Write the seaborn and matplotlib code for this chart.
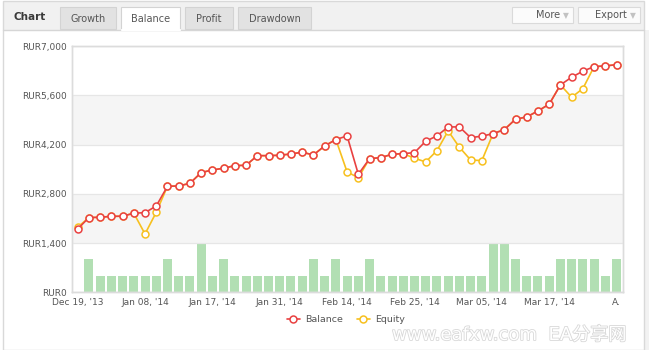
import matplotlib
matplotlib.use("Agg")
import matplotlib.pyplot as plt
import matplotlib.patheffects as pe
from matplotlib.patches import Rectangle
from matplotlib.lines import Line2D
import pandas as pd
import seaborn as sns

# ---- data -------------------------------------------------------------
date_labels = ["Dec 19, '13", "Jan 08, '14", "Jan 17, '14", "Jan 31, '14",
               "Feb 14, '14", "Feb 25, '14", "Mar 05, '14", "Mar 17, '14", "A."]
balance = [1800, 2125, 2135, 2160, 2165, 2250, 2265, 2455, 3015, 3025,
           3100, 3405, 3480, 3528, 3603, 3613, 3887, 3887, 3898, 3935,
           3984, 3907, 4163, 4345, 4448, 3357, 3802, 3831, 3926, 3944,
           3973, 4297, 4448, 4704, 4704, 4400, 4440, 4513, 4627, 4923,
           4988, 5159, 5350, 5899, 6118, 6289, 6420, 6439, 6475]
equity = [1850, 2125, 2135, 2160, 2165, 2250, 1659, 2276, 3015, 3025,
          3100, 3405, 3480, 3528, 3603, 3613, 3887, 3887, 3898, 3935,
          3984, 3907, 4163, 4345, 3423, 3261, 3802, 3831, 3926, 3944,
          3813, 3708, 4029, 4590, 4126, 3765, 3745, 4513, 4627, 4923,
          4988, 5159, 5350, 5899, 5548, 5794, 6420, 6439, 6475]
trades = [0, 2, 1, 1, 1, 1, 1, 1, 2, 1, 1, 3, 1, 2, 1, 1, 1, 1, 1, 1, 1, 2, 1,
          2, 1, 1, 2, 1, 1, 1, 1, 1, 1, 1, 1, 1, 1, 3, 3, 2, 1, 1, 1, 2, 2, 2, 2, 1, 2]
y_ticks = [0, 1400, 2800, 4200, 5600, 7000]
y_max = 7000
trades_max = 15

df = pd.DataFrame({"idx": range(len(balance)), "balance": balance,
                   "equity": equity, "trades": trades})

RED = "#e94141"
GOLD = "#f7c01e"
GREEN = "#b2dfb3"
TXT = "#555555"

sns.set_theme(style="white")
plt.rcParams["font.family"] = ["DejaVu Sans"]

W, H = 649, 350
fig = plt.figure(figsize=(W / 100, H / 100), dpi=100, facecolor="white")

# ---- panel chrome (pixel coordinates) ---------------------------------
bg = fig.add_axes([0, 0, 1, 1], zorder=-5)
bg.set_xlim(0, W)
bg.set_ylim(H, 0)
bg.axis("off")
bg.add_patch(Rectangle((3, 1), 640.5, 28.5, fc="#f1f1f1", ec="none"))
bg.plot([3, 643.5], [29.5, 29.5], color="#d6d6d6", lw=1)
bg.add_patch(Rectangle((643.5, 30), 6, 320, fc="#f2f2f2", ec="none"))
bg.add_patch(Rectangle((2.5, 0.5), 641, 349, fc="none", ec="#d9d9d9", lw=1))

bg.text(13, 17.5, "Chart", ha="left", va="center", fontsize=7.5,
        fontweight="bold", color="#3a3a3a")
tabs = [("Growth", 60, 116, False), ("Balance", 121, 180, True),
        ("Profit", 185, 233, False), ("Drawdown", 238, 311, False)]
for label, x0, x1, active in tabs:
    top = 6.7 if active else 7.3
    bottom = 30.2 if active else 29.3
    bg.add_patch(Rectangle((x0, top), x1 - x0, bottom - top,
                           fc="white" if active else "#e2e2e2",
                           ec="#d3d3d3", lw=0.8))
    if active:
        bg.plot([x0 + 0.5, x1 - 0.5], [29.6, 29.6], color="white", lw=1.6)
    bg.text((x0 + x1) / 2, 18.6, label, ha="center", va="center",
            fontsize=7, color=TXT)

for label, x0, x1 in [("More", 512, 573), ("Export", 578, 640)]:
    bg.add_patch(Rectangle((x0, 6.7), x1 - x0, 16.6, fc="#fbfbfb",
                           ec="#dadada", lw=0.8))
    bg.text(x1 - 13, 15.2, label, ha="right", va="center", fontsize=7,
            color=TXT)
    bg.text(x1 - 7, 15.2, "\u25bc", ha="center", va="center", fontsize=5.5,
            color="#c2c2c2")

bg.text(392, 335, "www.eafxw.com  EA分享网", ha="left", va="center",
        fontsize=13, color="white",
        family=["DejaVu Sans", "Noto Sans CJK SC"],
        path_effects=[pe.withStroke(linewidth=1.2, foreground="#d8d8d8")])

# ---- plot area --------------------------------------------------------
left, right = 71.7 / W, 623.3 / W
top, bottom = 1 - 46.2 / H, 1 - 292.3 / H
axb = fig.add_axes([left, bottom, right - left, top - bottom], zorder=0)
axb.set_facecolor("white")
ax = axb.twinx()
ax.set_zorder(1)
ax.patch.set_visible(False)

# alternating horizontal bands, drawn in the back axes beneath the bars
scale = trades_max / y_max
for lo, hi in [(y_ticks[1], y_ticks[2]), (y_ticks[3], y_ticks[4])]:
    axb.axhspan(lo * scale, hi * scale, facecolor="#f5f5f5",
                edgecolor="none", zorder=0)

# trade-count bars
sns.barplot(data=df, x="idx", y="trades", ax=axb, color=GREEN,
            saturation=1, width=0.8, linewidth=0, zorder=2)
axb.set_ylim(0, trades_max)
axb.set_yticks([])
axb.set_ylabel("")
axb.set_xlabel("")

for t in y_ticks:
    ax.axhline(t, color="#e6e6e6", lw=0.9, zorder=0.5)

line_kw = dict(marker="o", markersize=5, markerfacecolor="white",
               markeredgewidth=1.1, linewidth=1.2)
sns.lineplot(data=df, x="idx", y="equity", ax=ax, color=GOLD,
             markeredgecolor=GOLD, zorder=3, **line_kw)
sns.lineplot(data=df, x="idx", y="balance", ax=ax, color=RED,
             markeredgecolor=RED, zorder=4, **line_kw)

ax.yaxis.tick_left()
ax.yaxis.set_label_position("left")
ax.set_ylim(0, y_max)
ax.set_yticks(y_ticks)
ax.set_yticklabels([f"RUR{v:,}" for v in y_ticks])
ax.set_ylabel("")
ax.set_xlabel("")
ax.set_xlim(-0.53, 48.6)
ax.set_xticks(list(range(0, 49, 6)))
ax.set_xticklabels(date_labels)
axb.set_xticks(list(range(0, 49, 6)))
axb.set_xticklabels(date_labels)
axb.tick_params(axis="x", length=0, pad=4, labelsize=6.5, labelcolor=TXT)
ax.tick_params(axis="x", length=0, labelbottom=False)
ax.tick_params(axis="y", length=0, pad=3.5, labelsize=6.5, labelcolor=TXT,
               left=False, right=False, labelleft=True, labelright=False)
for a in (ax, axb):
    for s in a.spines.values():
        s.set_color("#dcdcdc")
        s.set_linewidth(1)

handles = [Line2D([], [], color=RED, marker="o", markerfacecolor="white",
                  markeredgecolor=RED, markersize=5, markeredgewidth=1.1, lw=1.2),
           Line2D([], [], color=GOLD, marker="o", markerfacecolor="white",
                  markeredgecolor=GOLD, markersize=5, markeredgewidth=1.1, lw=1.2)]
fig.legend(handles, ["Balance", "Equity"], loc="center",
           bbox_to_anchor=(346 / W, 1 - 320 / H), ncol=2, frameon=False,
           fontsize=6.8, handlelength=1.4, columnspacing=1.4,
           handletextpad=0.6, labelcolor=TXT)

fig.savefig("out.png", dpi=100, facecolor="white")
